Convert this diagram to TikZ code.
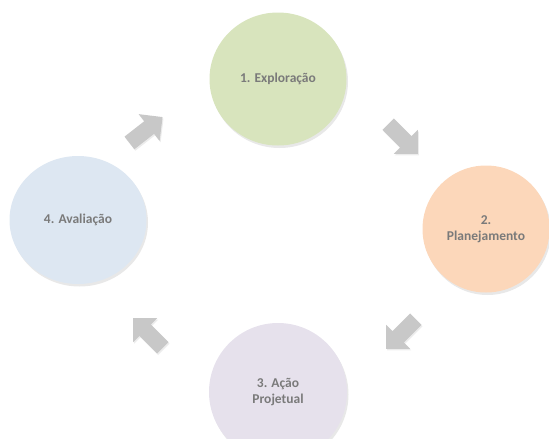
\documentclass[tikz,border=0pt]{standalone}
\usepackage{fontspec}
\setmainfont{Carlito}
\usetikzlibrary{shapes.geometric,shadows}

\definecolor{stageGreen}{HTML}{D8E4BD}
\definecolor{stagePeach}{HTML}{FCD7BA}
\definecolor{stageLilac}{HTML}{E6E1EC}
\definecolor{stageBlue}{HTML}{DDE7F2}
\definecolor{labelGray}{HTML}{7A7A7A}
\definecolor{arrowGray}{HTML}{C8C8C8}

\tikzset{
  stage/.style={ellipse, inner sep=0pt, align=center,
    font=\bfseries\fontsize{13.5}{16}\selectfont, text=labelGray,
    drop shadow={opacity=0.18, shadow xshift=1.5pt, shadow yshift=-2.5pt}},
  blockarrow/.style={fill=arrowGray,
    drop shadow={opacity=0.15, shadow xshift=1pt, shadow yshift=-1.5pt}}
}

% block arrow pointing along the local +x axis, centred on the origin
\newcommand{\cyclearrow}[2]{%
  \begin{scope}[shift={#1}, rotate=#2]
    \path[blockarrow] (-21,-8) -- (4,-8) -- (4,-17) -- (21,0)
      -- (4,17) -- (4,8) -- (-21,8) -- cycle;
  \end{scope}}

\begin{document}
\begin{tikzpicture}[x=1pt, y=-1pt]
  \useasboundingbox (0,0) rectangle (549,439);

  \node[stage, fill=stageGreen, minimum width=137pt, minimum height=133pt]
    (explor) at (278,79) {1. Exploração};
  \node[stage, fill=stagePeach, minimum width=127pt, minimum height=127pt]
    (plan) at (486,229) {2.\\Planejamento};
  \node[stage, fill=stageLilac, minimum width=138pt, minimum height=138pt]
    (acao) at (278,392) {3. Ação\\Projetual};
  \node[stage, fill=stageBlue, minimum width=137pt, minimum height=128pt]
    (aval) at (78,220) {4. Avaliação};

  % arrows of the cycle
  \cyclearrow{(403,139)}{-45}
  \cyclearrow{(401,334)}{-135}
  \cyclearrow{(148,333)}{135}
  \cyclearrow{(146,130)}{38}
\end{tikzpicture}
\end{document}
